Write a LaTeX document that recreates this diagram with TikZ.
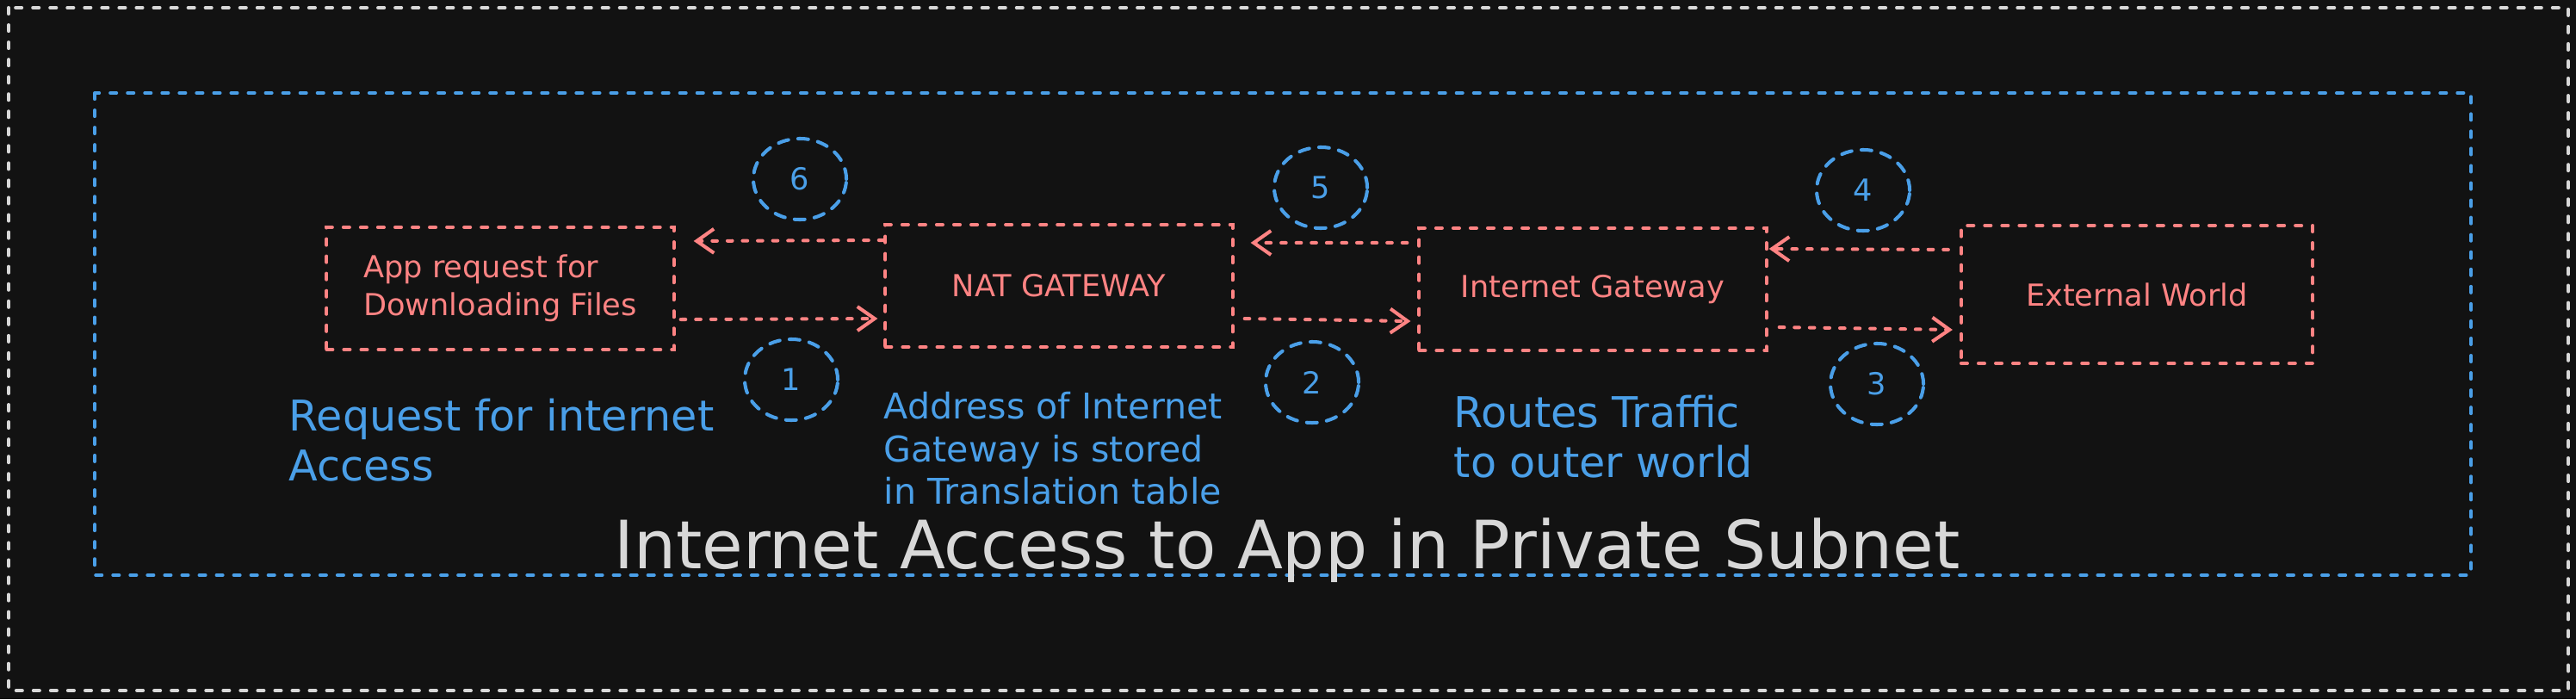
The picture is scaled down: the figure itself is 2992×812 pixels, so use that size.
\documentclass[tikz,border=0pt]{standalone}
\usepackage{fontspec}
\setmainfont{DejaVu Sans}
\usetikzlibrary{arrows.meta, shapes.geometric, positioning}
\definecolor{bgdark}{HTML}{121212}
\definecolor{salmon}{HTML}{FF8383}
\definecolor{skyblue}{HTML}{4A9FE8}
\definecolor{chalk}{HTML}{D8D8D8}
\tikzset{
  stage/.style={draw=salmon, text=salmon, line width=1.15pt, line cap=round,
    dash pattern=on 2pt off 3.7pt, minimum width=4.03cm, minimum height=1.42cm,
    align=center, inner sep=0pt, font=\fontsize{10}{12.5}\selectfont},
  flow/.style={draw=salmon, line width=1.15pt, line cap=round,
    dash pattern=on 1.6pt off 3.4pt, -{Straight Barb[length=2mm, width=2.8mm]}},
  badge/.style={ellipse, draw=skyblue, text=skyblue, line width=1.15pt, line cap=round,
    dash pattern=on 3.4pt off 3.2pt, minimum width=1.08cm, minimum height=0.94cm,
    inner sep=0pt, font=\fontsize{10}{12}\selectfont},
  note/.style={text=skyblue, align=left, anchor=west, inner sep=0pt}
}

\begin{document}
\begin{tikzpicture}[x=0.01cm, y=-0.01cm, line cap=round]

  \fill[bgdark] (0,0) rectangle (2992,812);
  \useasboundingbox (0,0) rectangle (2992,812);

  % frames
  \draw[chalk, line width=1.15pt, dash pattern=on 2pt off 3.7pt] (10,9) rectangle (2983,802);
  \draw[skyblue, line width=1.15pt, dash pattern=on 2pt off 3.7pt] (110,108) rectangle (2870,668);

  % boxes
  \node[stage, align=left] (app) at (581,335) {App request for\\Downloading Files};
  \node[stage] (nat) at (1230,332) {NAT GATEWAY};
  \node[stage] (igw) at (1850,336) {Internet Gateway};
  \node[stage, minimum width=4.08cm, minimum height=1.6cm] (ext) at (2482,342) {External World};

  % flows
  \draw[flow] ([yshift=5.3mm]nat.west) -- ([xshift=2.1mm, yshift=5.5mm]app.east);
  \draw[flow] ([xshift=0.6mm, yshift=-3.6mm]app.east) -- ([xshift=-0.7mm, yshift=-3.8mm]nat.west);
  \draw[flow] ([xshift=-1.2mm, yshift=5.4mm]igw.west) -- ([xshift=1.9mm, yshift=5mm]nat.east);
  \draw[flow] ([xshift=1.2mm, yshift=-3.8mm]nat.east) -- ([xshift=-0.8mm, yshift=-3.7mm]igw.west);
  \draw[flow] ([xshift=-1.3mm, yshift=5.2mm]ext.west) -- ([xshift=0.1mm, yshift=4.7mm]igw.east);
  \draw[flow] ([xshift=1.3mm, yshift=-4.4mm]igw.east) -- ([xshift=-0.8mm, yshift=-4.1mm]ext.west);

  % step numbers
  \node[badge] (n6) at (929,208) {6};
  \node[badge] (n1) at (919,441) {1};
  \node[badge] (n5) at (1534,218) {5};
  \node[badge] (n2) at (1524,444) {2};
  \node[badge] (n4) at (2164,221) {4};
  \node[badge] (n3) at (2180,446) {3};

  % notes
  \node[note, font=\fontsize{14}{16.6}\selectfont] (reqnote) at (335,511) {Request for internet\\Access};
  \node[note, font=\fontsize{11.7}{14.1}\selectfont] (natnote) at (1026,521) {Address of Internet\\Gateway is stored\\in Translation table};
  \node[note, font=\fontsize{14}{16.4}\selectfont] (igwnote) at (1688,507) {Routes Traffic\\to outer world};

  \node[text=chalk, anchor=base, inner sep=0pt, font=\fontsize{22}{26}\selectfont] (title) at (1495,660) {Internet Access to App in Private Subnet};

\end{tikzpicture}
\end{document}
